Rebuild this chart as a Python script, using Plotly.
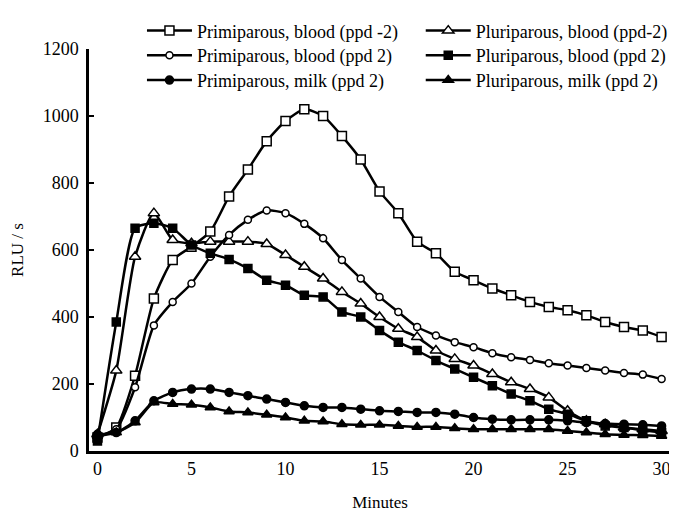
import plotly.graph_objects as go

minutes = list(range(31))

# RLU/s readings, one value per minute
primi_blood_pre = [40, 70, 225, 455, 570, 610, 655, 760, 840, 925, 985, 1020, 1000, 940, 870, 775,
                   710, 625, 590, 535, 510, 485, 465, 445, 430, 420, 405, 385, 370, 360, 340]
pluri_blood_pre = [50, 240, 580, 710, 630, 620, 625, 625, 625, 618, 585, 550, 515, 475, 440, 400,
                   365, 340, 300, 275, 255, 230, 205, 185, 160, 120, 90, 80, 70, 65, 60]
primi_blood_post = [45, 65, 190, 375, 445, 500, 580, 645, 690, 718, 710, 678, 635, 570, 515, 460,
                    415, 370, 345, 325, 310, 292, 280, 272, 262, 255, 248, 240, 233, 228, 215]
pluri_blood_post = [30, 385, 665, 680, 665, 615, 590, 572, 545, 510, 495, 465, 460, 415, 400, 360,
                    325, 300, 270, 245, 220, 195, 170, 150, 125, 110, 90, 75, 70, 62, 55]
primi_milk_post = [50, 55, 90, 150, 175, 185, 185, 175, 165, 155, 145, 135, 130, 130, 125, 120,
                   118, 115, 115, 110, 100, 95, 93, 93, 93, 90, 85, 82, 80, 78, 75]
pluri_milk_post = [45, 55, 85, 145, 140, 138, 130, 118, 115, 108, 100, 90, 88, 80, 78, 78,
                   75, 72, 72, 68, 65, 65, 65, 65, 65, 60, 55, 50, 48, 47, 45]

x_labels = [0, 5, 10, 15, 20, 25, 30]
x_marks = [4.5, 9.5, 14.5, 19.5, 24.5, 29.5]

# name, values, marker symbol, fill, marker size
series = [
    ("Primiparous, blood (ppd -2)", primi_blood_pre, "square", "white", 9),
    ("Pluriparous, blood (ppd-2)", pluri_blood_pre, "triangle-up", "white", 10),
    ("Primiparous, blood (ppd 2)", primi_blood_post, "circle", "white", 7),
    ("Pluriparous, blood (ppd 2)", pluri_blood_post, "square", "black", 8),
    ("Primiparous, milk (ppd 2)", primi_milk_post, "circle", "black", 8),
    ("Pluriparous, milk (ppd 2)", pluri_milk_post, "triangle-up", "black", 9),
]

serif = "Liberation Serif, Times New Roman, serif"

fig = go.Figure()
legends = {}
for i, (name, values, symbol, fill, size) in enumerate(series):
    # one small legend per entry: two columns, three rows 25px apart
    legend_id = "legend" if i == 0 else f"legend{i + 1}"
    row, col = divmod(i, 2)
    legends[legend_id] = {
        "x": [0.091, 0.570][col],
        "y": [1.091, 1.0296, 0.968][row],
        "xanchor": "left",
        "yanchor": "top",
        "itemwidth": 45,
        "bgcolor": "rgba(0,0,0,0)",
        "font": {"family": serif, "size": 18},
    }
    fig.add_trace(
        go.Scatter(
            x=minutes,
            y=values,
            name=name,
            legend=legend_id,
            showlegend=True,
            mode="lines+markers",
            line={"color": "black", "width": 2.5, "shape": "spline", "smoothing": 0.6},
            marker={"symbol": symbol, "color": fill, "size": size,
                    "line": {"color": "black", "width": 1.5}},
        )
    )

# the page body keeps its default 8px margin, so the figure is 8px smaller than the window
fig.update_layout(
    width=669,
    height=508,
    margin={"l": 81, "r": 4, "t": 37, "b": 65},
    showlegend=True,
    paper_bgcolor="white",
    plot_bgcolor="white",
    font={"family": serif, "size": 18, "color": "black"},
    xaxis={
        "range": [-0.45, 30.5],
        "tickvals": x_labels,
        "ticks": "",
        "showline": True,
        "linecolor": "black",
        "linewidth": 2.5,
        "showgrid": False,
        "zeroline": False,
        "automargin": False,
        "title": {"text": "Minutes", "font": {"family": serif, "size": 17}, "standoff": 18},
    },
    xaxis2={
        "range": [-0.45, 30.5],
        "overlaying": "x",
        "anchor": "y",
        "side": "bottom",
        "tickvals": x_marks,
        "showticklabels": False,
        "ticks": "inside",
        "ticklen": 5,
        "tickwidth": 2,
        "tickcolor": "black",
        "showline": False,
        "showgrid": False,
        "zeroline": False,
    },
    yaxis={
        "range": [0, 1200],
        "dtick": 200,
        "ticks": "inside",
        "ticklen": 5,
        "tickwidth": 2,
        "tickcolor": "black",
        "ticklabelstandoff": 4,
        "showline": True,
        "linecolor": "black",
        "linewidth": 2.5,
        "showgrid": False,
        "zeroline": False,
        "automargin": False,
        "title": {"text": "RLU / s", "font": {"family": serif, "size": 17}, "standoff": 28},
    },
    **legends,
)

fig.write_html("out.html")
